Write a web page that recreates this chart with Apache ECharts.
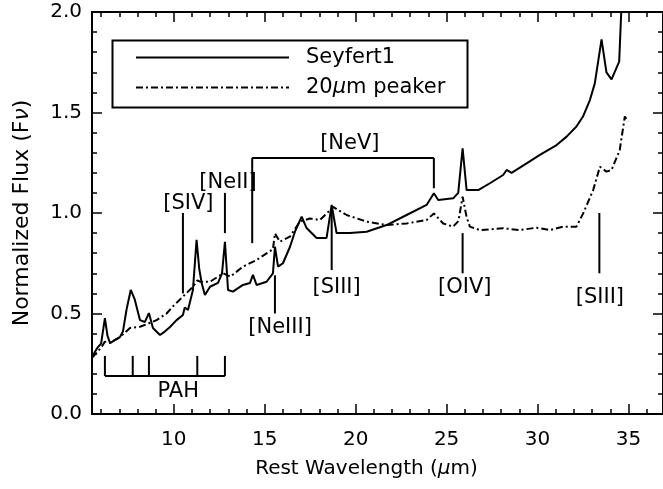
<!DOCTYPE html>
<html>
<head>
<meta charset="utf-8">
<script src="https://cdn.jsdelivr.net/npm/echarts@6/dist/echarts.min.js"></script>
<style>
  html, body { margin: 0; padding: 0; background: #fff; }
  #chart { width: 663px; height: 489px; }
</style>
</head>
<body>
<div id="chart"></div>
<script>
// Mid-infrared template spectra (rest wavelength in micron, normalized F_nu)
const seyfertWave = [5.5, 5.8, 6.0, 6.21, 6.35, 6.49, 6.8, 7.04, 7.2, 7.4, 7.63, 7.85, 8.14, 8.41, 8.63, 8.85, 9.24, 9.5, 9.79, 10.15, 10.5, 10.6, 10.78, 11.05, 11.25, 11.4, 11.53, 11.71, 11.99, 12.43, 12.65, 12.81, 12.98, 13.25, 13.8, 14.19, 14.35, 14.55, 15.1, 15.45, 15.56, 15.73, 16.0, 16.39, 16.66, 17.03, 17.3, 17.85, 18.4, 18.68, 18.95, 19.68, 20.6, 21.7, 22.8, 23.9, 24.3, 24.54, 25.36, 25.64, 25.88, 26.1, 26.74, 27.38, 28.11, 28.3, 28.57, 29.4, 30.13, 31.05, 31.6, 32.14, 32.5, 32.88, 33.15, 33.52, 33.79, 34.07, 34.49, 34.6, 34.7];
const seyfertFlux = [0.285, 0.33, 0.35, 0.477, 0.39, 0.353, 0.37, 0.383, 0.41, 0.52, 0.617, 0.57, 0.467, 0.458, 0.502, 0.428, 0.393, 0.41, 0.433, 0.467, 0.493, 0.53, 0.517, 0.617, 0.866, 0.72, 0.652, 0.592, 0.633, 0.652, 0.70, 0.857, 0.617, 0.609, 0.642, 0.652, 0.692, 0.642, 0.658, 0.70, 0.832, 0.733, 0.75, 0.832, 0.907, 0.982, 0.925, 0.876, 0.876, 1.04, 0.9, 0.9, 0.907, 0.94, 0.99, 1.04, 1.098, 1.065, 1.073, 1.1, 1.322, 1.114, 1.114, 1.148, 1.189, 1.214, 1.2, 1.247, 1.289, 1.338, 1.38, 1.43, 1.48, 1.562, 1.645, 1.864, 1.70, 1.665, 1.753, 1.994, 2.2];

const peakerWave = [5.5, 6.0, 6.21, 6.5, 7.0, 7.59, 8.14, 8.6, 9.05, 9.6, 10.0, 10.5, 11.05, 11.3, 11.44, 11.99, 12.72, 13.1, 13.8, 14.55, 15.1, 15.45, 15.56, 15.83, 16.38, 16.93, 17.48, 18.03, 18.6, 18.76, 19.5, 20.6, 21.7, 22.8, 23.9, 24.3, 24.81, 25.36, 25.65, 25.88, 26.1, 26.28, 26.83, 28.11, 29.03, 29.94, 30.68, 31.41, 32.14, 32.51, 33.06, 33.43, 33.79, 34.07, 34.52, 34.8, 34.98];
const peakerFlux = [0.28, 0.33, 0.36, 0.355, 0.38, 0.428, 0.434, 0.45, 0.467, 0.50, 0.54, 0.584, 0.633, 0.665, 0.658, 0.658, 0.70, 0.683, 0.733, 0.766, 0.799, 0.82, 0.899, 0.857, 0.882, 0.957, 0.973, 0.965, 1.015, 1.03, 0.99, 0.957, 0.94, 0.948, 0.965, 0.998, 0.948, 0.932, 0.96, 1.081, 0.98, 0.932, 0.915, 0.924, 0.915, 0.927, 0.915, 0.932, 0.932, 0.998, 1.114, 1.23, 1.206, 1.214, 1.313, 1.48, 1.455];

const seriesNames = ['Seyfert1', '20μm peaker'];

// Axis ticks
const xMajorTicks = [10, 15, 20, 25, 30, 35];
const xMinorTicks = [6, 7, 8, 9, 11, 12, 13, 14, 16, 17, 18, 19, 21, 22, 23, 24, 26, 27, 28, 29, 31, 32, 33, 34, 36];
const yTicks = [0, 0.5, 1.0, 1.5, 2.0];

// Emission-line identifications: marker line and its label
const lineNames = ['[SIV]', '[NeII]', '[NeIII]', '[SIII]', '[OIV]', '[SIII]'];
const lineWave = [10.5, 12.81, 15.56, 18.68, 25.88, 33.4];
const lineTop = [1.0, 1.10, 0.69, 1.015, 0.90, 1.0];
const lineBottom = [0.60, 0.90, 0.50, 0.716, 0.70, 0.70];
const lineLabelWave = [10.8, 12.98, 15.84, 18.95, 26.0, 33.43];
const lineLabelFlux = [1.047, 1.152, 0.428, 0.627, 0.627, 0.58];

// [NeV] bracket (14.3 and 24.3 micron)
const neVName = '[NeV]';
const neVWave = [14.31, 24.3];
const neVBottom = [0.85, 1.123];
const neVTop = 1.274;
const neVLabel = [19.68, 1.347];

// PAH feature comb
const pahName = 'PAH';
const pahWave = [6.21, 7.74, 8.63, 11.29, 12.81];
const pahBase = 0.189;
const pahTop = 0.289;
const pahLabel = [10.24, 0.111];

const FONT = 'DejaVu Sans';
const TICK_FS = 20;
const NOTE_FS = 21;
const noteFont = NOTE_FS + 'px "' + FONT + '"';

function zip(a, b) { return a.map((v, i) => [v, b[i]]); }

const chart = echarts.init(document.getElementById('chart'), null, { renderer: 'canvas' });

const xRange = { min: 5.5, max: 36.9 };
const axisLineStyle = { color: '#000', width: 2 };
const italicRich = fs => ({ i: { fontStyle: 'italic', fontFamily: FONT, fontSize: fs, color: '#000' } });

function xAxisDef(pos, ticks, len, withLabels) {
  return {
    type: 'value', position: pos, min: xRange.min, max: xRange.max,
    axisLine: { show: true, onZero: false, lineStyle: axisLineStyle },
    axisTick: { show: true, inside: true, length: len, customValues: ticks, lineStyle: { color: '#000', width: 1.5 } },
    axisLabel: withLabels ? { show: true, customValues: ticks, margin: 16, color: '#000', fontFamily: FONT, fontSize: TICK_FS } : { show: false },
    splitLine: { show: false }
  };
}

function yAxisDef(pos, withLabels) {
  return {
    type: 'value', position: pos, min: 0, max: 2.0,
    axisLine: { show: true, onZero: false, lineStyle: axisLineStyle },
    axisTick: { show: true, inside: true, length: 10, customValues: yTicks, lineStyle: { color: '#000', width: 1.5 } },
    minorTick: { show: true, splitNumber: 5, length: 5, lineStyle: { color: '#000', width: 1.5 } },
    axisLabel: withLabels ? { show: true, customValues: yTicks, margin: 10, color: '#000', fontFamily: FONT, fontSize: TICK_FS, formatter: v => v.toFixed(1) } : { show: false },
    splitLine: { show: false }, minorSplitLine: { show: false }
  };
}

const xBottom = xAxisDef('bottom', xMajorTicks, 10, true);
xBottom.name = 'Rest Wavelength ({i|μ}m)';
xBottom.nameLocation = 'middle';
xBottom.nameGap = 45;
xBottom.nameTextStyle = { color: '#000', fontFamily: FONT, fontSize: 20, padding: [0, 22, 0, 0], rich: italicRich(20) };

const yLeft = yAxisDef('left', true);
yLeft.name = 'Normalized Flux (F{i|ν})';
yLeft.nameLocation = 'middle';
yLeft.nameGap = 59;
yLeft.nameTextStyle = { color: '#000', fontFamily: FONT, fontSize: 22, padding: [0, 0, 0, 0], rich: italicRich(22) };

function annotationSeries() {
  return {
    type: 'custom', xAxisIndex: 0, yAxisIndex: 0, silent: true, clip: false, z: 5,
    data: [0],
    renderItem: function (params, api) {
      const kids = [];
      const stroke = { stroke: '#000', lineWidth: 2 };
      function seg(x1, y1, x2, y2) {
        const p = api.coord([x1, y1]), q = api.coord([x2, y2]);
        kids.push({ type: 'line', shape: { x1: p[0], y1: p[1], x2: q[0], y2: q[1] }, style: stroke });
      }
      function label(txt, x, y) {
        const p = api.coord([x, y]);
        kids.push({ type: 'text', style: { text: txt, x: p[0], y: p[1], align: 'center', verticalAlign: 'middle', font: noteFont, fill: '#000' } });
      }
      lineNames.forEach((n, i) => {
        seg(lineWave[i], lineBottom[i], lineWave[i], lineTop[i]);
        label(n, lineLabelWave[i], lineLabelFlux[i]);
      });
      // [NeV] bracket
      seg(neVWave[0], neVBottom[0], neVWave[0], neVTop);
      seg(neVWave[0], neVTop, neVWave[1], neVTop);
      seg(neVWave[1], neVTop, neVWave[1], neVBottom[1]);
      label(neVName, neVLabel[0], neVLabel[1]);
      // PAH comb
      seg(pahWave[0], pahBase, pahWave[pahWave.length - 1], pahBase);
      pahWave.forEach(w => seg(w, pahBase, w, pahTop));
      label(pahName, pahLabel[0], pahLabel[1]);
      return { type: 'group', children: kids };
    }
  };
}

const option = {
  backgroundColor: '#fff',
  animation: false,
  grid: { left: 92, top: 12, right: 0, bottom: 75, containLabel: false },
  xAxis: [
    xBottom,
    xAxisDef('bottom', xMinorTicks, 5, false),
    xAxisDef('top', xMajorTicks, 10, false),
    xAxisDef('top', xMinorTicks, 5, false)
  ],
  yAxis: [yLeft, yAxisDef('right', false)],
  legend: {
    show: true, orient: 'vertical', left: 135, top: 47,
    itemWidth: 153, itemHeight: 14, itemGap: 9, padding: 0,
    data: seriesNames,
    itemStyle: { opacity: 0 },
    textStyle: { color: '#000', fontFamily: FONT, fontSize: NOTE_FS, padding: [0, 0, 0, 12], rich: italicRich(NOTE_FS) },
    formatter: n => n.replace('μ', '{i|μ}')
  },
  graphic: [
    { type: 'rect', left: 110, top: 38, shape: { width: 355, height: 67 }, style: { fill: 'none', stroke: '#000', lineWidth: 2 }, z: 10 }
  ],
  series: [
    {
      name: seriesNames[0], type: 'line', xAxisIndex: 0, yAxisIndex: 0,
      data: zip(seyfertWave, seyfertFlux), symbol: 'none', smooth: false, clip: true,
      lineStyle: { color: '#000', width: 2 }, itemStyle: { color: '#000' }
    },
    {
      name: seriesNames[1], type: 'line', xAxisIndex: 0, yAxisIndex: 0,
      data: zip(peakerWave, peakerFlux), symbol: 'none', smooth: false, clip: true,
      lineStyle: { color: '#000', width: 2, type: [7, 3, 2, 3] }, itemStyle: { color: '#000' }
    },
    annotationSeries()
  ]
};

chart.setOption(option);
</script>
</body>
</html>
